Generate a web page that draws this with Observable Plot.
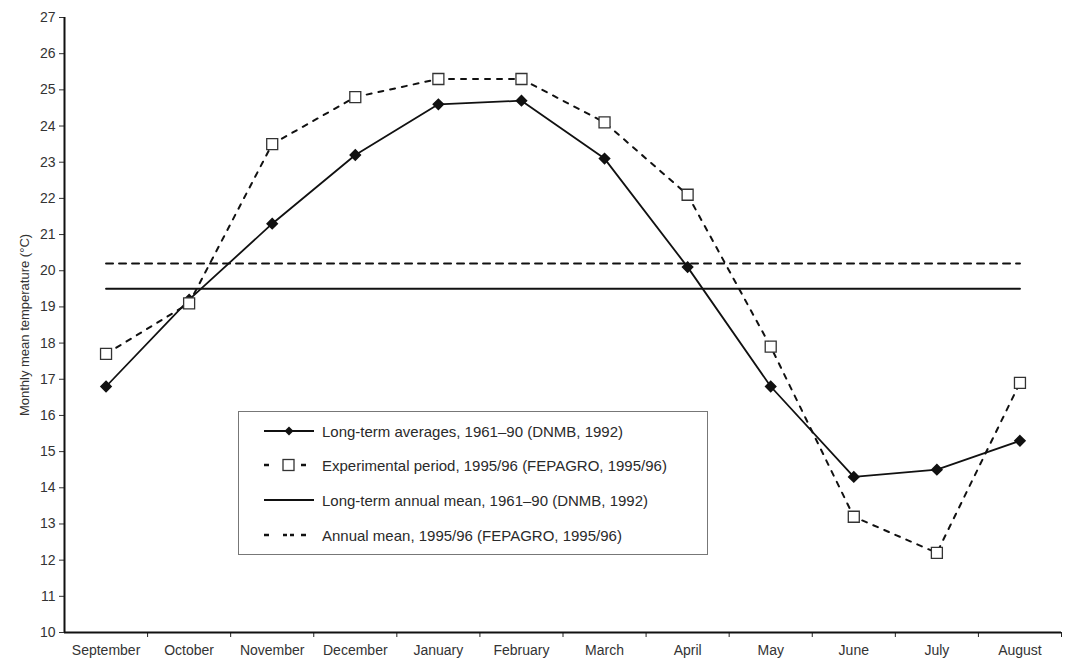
<!DOCTYPE html>
<html><head><meta charset="utf-8">
<script src="https://cdn.jsdelivr.net/npm/d3@7"></script>
<script src="https://cdn.jsdelivr.net/npm/@observablehq/plot@0.6"></script>
<style>
body{margin:0;background:#fff;}
#wrap{position:relative;width:1083px;height:666px;}
#legend{position:absolute;left:238px;top:411px;width:470px;height:144px;border:1.5px solid #777;box-sizing:border-box;background:#fff;font-family:"Liberation Sans",Arial,sans-serif;font-size:15px;color:#2a2a2a;}
.item{position:absolute;left:24px;height:20px;display:flex;align-items:center;white-space:nowrap;}
.item svg{margin-right:7px;}
</style></head><body><div id="wrap"></div>
<script>
// Categories (x axis)
const months = ["September","October","November","December","January","February","March","April","May","June","July","August"];
// Long-term averages, 1961–90 (DNMB, 1992)
const longTerm = [16.8, 19.2, 21.3, 23.2, 24.6, 24.7, 23.1, 20.1, 16.8, 14.3, 14.5, 15.3];
// Experimental period, 1995/96 (FEPAGRO, 1995/96)
const experimental = [17.7, 19.1, 23.5, 24.8, 25.3, 25.3, 24.1, 22.1, 17.9, 13.2, 12.2, 16.9];
// Annual means
const longTermMean = 19.5;
const annualMean = 20.2;
// Tick values
const yTicks = d3.range(10, 28);
const legendLabels = [
  "Long-term averages, 1961–90 (DNMB, 1992)",
  "Experimental period, 1995/96 (FEPAGRO, 1995/96)",
  "Long-term annual mean, 1961–90 (DNMB, 1992)",
  "Annual mean, 1995/96 (FEPAGRO, 1995/96)"
];

const data = months.map((m, i) => ({pos: i + 0.5, month: m, lt: longTerm[i], ex: experimental[i], ltm: longTermMean, am: annualMean}));

const chart = Plot.plot({
  width: 1083,
  height: 666,
  marginLeft: 64,
  marginRight: 22,
  marginTop: 17,
  marginBottom: 34,
  style: {fontFamily: "'Liberation Sans', Arial, sans-serif", fontSize: "12px", color: "#222", background: "#fff"},
  x: {domain: [0, 12], axis: null},
  y: {domain: [10, 27], axis: null},
  marks: [
    Plot.axisY({ticks: yTicks, tickSize: 5, tickPadding: 4, tickFormat: d3.format("d"), label: null, fontSize: 14, color: "#333"}),
    Plot.axisY({ticks: [], label: "Monthly mean temperature (°C)", labelArrow: "none", labelAnchor: "center", labelOffset: 45, fontSize: 13, color: "#333"}),
    Plot.axisX({ticks: d3.range(1, 13), tickSize: 5, tickFormat: () => "", label: null}),
    Plot.axisX({ticks: data.map(d => d.pos), tickSize: 0, tickPadding: 13, tickFormat: d => months[Math.floor(d)], label: null, fontSize: 14, color: "#333"}),
    Plot.ruleY([10], {stroke: "#111", strokeWidth: 2}),
    Plot.ruleX([0], {stroke: "#111", strokeWidth: 2}),
    Plot.line(data, {x: "pos", y: "am", stroke: "#111", strokeWidth: 2, strokeDasharray: "7,6"}),
    Plot.line(data, {x: "pos", y: "ltm", stroke: "#111", strokeWidth: 2}),
    Plot.line(data, {x: "pos", y: "ex", stroke: "#111", strokeWidth: 2, strokeDasharray: "5,7"}),
    Plot.line(data, {x: "pos", y: "lt", stroke: "#111", strokeWidth: 1.8}),
    Plot.dot(data, {x: "pos", y: "lt", symbol: "diamond2", r: 4.6, fill: "#111", stroke: "#111"}),
    Plot.dot(data, {x: "pos", y: "ex", symbol: "square", r: 6.2, fill: "#fff", stroke: "#333", strokeWidth: 1.3})
  ]
});
const wrap = document.getElementById("wrap");
wrap.appendChild(chart);

// Legend overlay inside the plot area
const swatches = [
  `<svg width="52" height="14"><line x1="1" y1="7" x2="51" y2="7" stroke="#111" stroke-width="2"/><path d="M26 2.5 L30.5 7 L26 11.5 L21.5 7 Z" fill="#111"/></svg>`,
  `<svg width="52" height="14"><line x1="1" y1="7" x2="6" y2="7" stroke="#111" stroke-width="2.5"/><rect x="20" y="1.5" width="11" height="11" fill="#fff" stroke="#333" stroke-width="1.3"/><line x1="38" y1="7" x2="43" y2="7" stroke="#111" stroke-width="2.5"/></svg>`,
  `<svg width="52" height="14"><line x1="1" y1="7" x2="51" y2="7" stroke="#111" stroke-width="2"/></svg>`,
  `<svg width="52" height="14"><line x1="1" y1="7" x2="6" y2="7" stroke="#111" stroke-width="2.5"/><line x1="20" y1="7" x2="31" y2="7" stroke="#111" stroke-width="2.5" stroke-dasharray="4,3"/><line x1="38" y1="7" x2="43" y2="7" stroke="#111" stroke-width="2.5"/></svg>`
];
const legend = document.createElement("div");
legend.id = "legend";
const rowTops = [9, 43, 78, 113];
legendLabels.forEach((lab, i) => {
  const it = document.createElement("div");
  it.className = "item";
  it.style.top = rowTops[i] + "px";
  it.innerHTML = swatches[i] + `<span>${lab}</span>`;
  legend.appendChild(it);
});
wrap.appendChild(legend);
</script>
</body></html>
